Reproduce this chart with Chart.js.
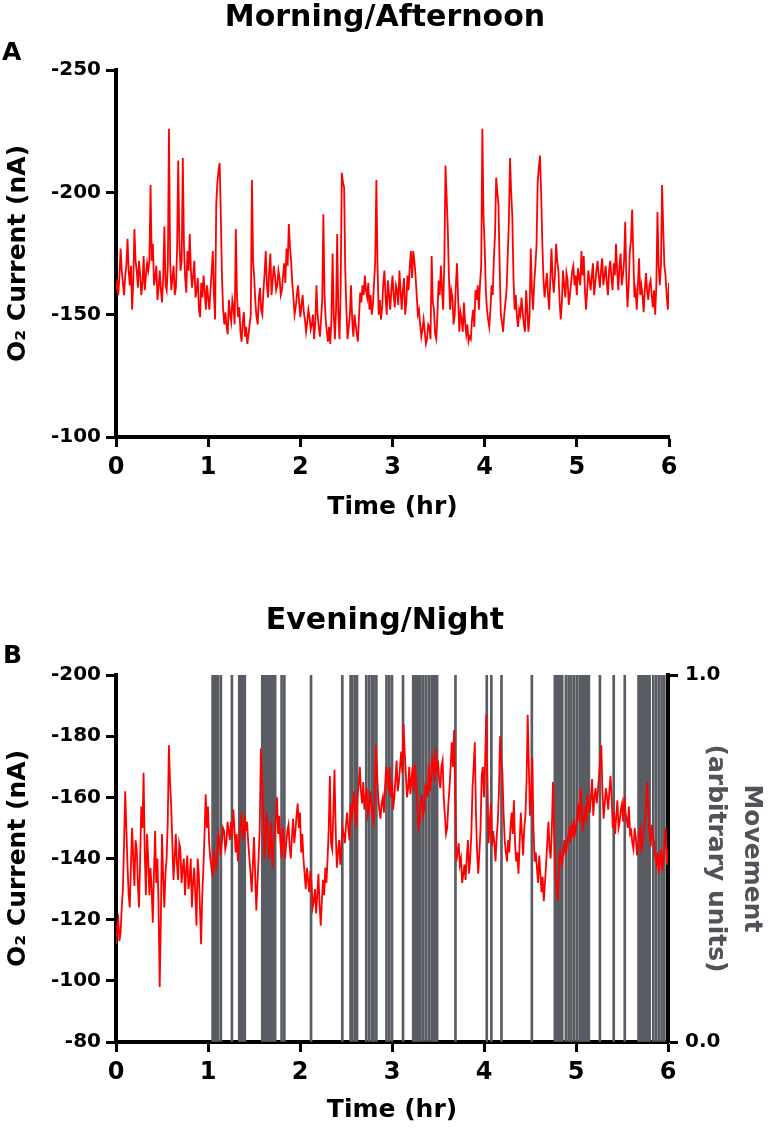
<!DOCTYPE html>
<html>
<head>
<meta charset="utf-8">
<title>O2 current and movement</title>
<script src="https://cdn.jsdelivr.net/npm/chart.js@4.4.1/dist/chart.umd.min.js"></script>
<style>
    body { margin: 0; background: #fff; width: 770px; height: 1129px; position: relative; overflow: hidden; }
    canvas { position: absolute; left: 0; }
    #chart-a { top: 0; }
    #chart-b { top: 560px; }
    .panel-letter { position: absolute; font-family: 'DejaVu Sans', sans-serif; font-weight: bold; font-size: 25px; line-height: 25px; color: #000; }
</style>
</head>
<body>
<canvas id="chart-a" width="770" height="530"></canvas>
<canvas id="chart-b" width="770" height="569"></canvas>
<div class="panel-letter" style="left:2px;top:39px">A</div>
<div class="panel-letter" style="left:3px;top:642px">B</div>
<script>
// samples every 0.0125 hr (45 s)
const sampleStep = 0.0125;
const timeTicks = [0, 1, 2, 3, 4, 5, 6];
const morningTicks = [-250, -200, -150, -100];
const eveningTicks = [-200, -180, -160, -140, -120, -100, -80];
const movementTicks = [0, 1];

const morningCurrent = [
    -160, -164, -158, -166, -177, -168, -163, -158, -166, -170, -181, -168, -162, -170, -152, -164, -185, -172, -168, -161,
    -172, -166, -158, -163, -174, -160, -166, -171, -168, -172, -203, -172, -179, -162, -165, -170, -156, -161, -168, -160,
    -155, -166, -186, -162, -160, -170, -226, -172, -160, -165, -170, -158, -161, -176, -213, -180, -168, -172, -214, -178,
    -165, -159, -176, -168, -183, -168, -161, -166, -172, -157, -160, -165, -152, -149, -163, -157, -166, -160, -152, -162,
    -157, -152, -160, -167, -176, -158, -148, -195, -204, -209, -212, -190, -165, -152, -146, -151, -145, -142, -156, -150,
    -147, -156, -153, -146, -185, -158, -149, -153, -143, -139, -147, -151, -141, -145, -138, -142, -146, -150, -205, -172,
    -165, -155, -149, -146, -157, -161, -152, -150, -160, -167, -176, -162, -157, -168, -175, -158, -164, -170, -166, -160,
    -162, -168, -165, -158, -160, -166, -171, -163, -177, -170, -187, -178, -172, -163, -157, -150, -153, -158, -162, -155,
    -149, -154, -158, -151, -148, -143, -147, -152, -149, -144, -146, -150, -140, -147, -162, -150, -145, -141, -148, -156,
    -191, -158, -148, -143, -139, -145, -138, -148, -175, -150, -140, -152, -183, -150, -140, -160, -208, -204, -202, -168,
    -152, -140, -145, -150, -162, -148, -141, -150, -146, -142, -139, -150, -159, -155, -162, -158, -166, -160, -157, -163,
    -152, -158, -150, -154, -163, -172, -205, -170, -150, -156, -148, -153, -163, -168, -157, -150, -164, -158, -152, -160,
    -166, -158, -153, -162, -160, -154, -168, -160, -152, -160, -165, -150, -155, -166, -160, -170, -176, -165, -176, -172,
    -166, -158, -150, -152, -146, -141, -144, -148, -143, -138, -140, -146, -145, -140, -174, -155, -152, -142, -140, -150,
    -164, -158, -170, -160, -152, -172, -211, -198, -185, -165, -152, -160, -157, -146, -150, -162, -171, -156, -143, -151,
    -148, -143, -155, -147, -142, -146, -139, -141, -140, -148, -152, -145, -160, -156, -162, -152, -163, -170, -226, -190,
    -178, -160, -152, -148, -145, -152, -162, -158, -173, -183, -206, -200, -195, -170, -150, -147, -143, -150, -155, -160,
    -174, -188, -214, -200, -190, -165, -152, -158, -149, -145, -152, -150, -157, -151, -146, -143, -160, -152, -143, -150,
    -177, -160, -152, -163, -170, -178, -204, -210, -215, -200, -180, -165, -157, -162, -167, -158, -152, -165, -177, -165,
    -159, -166, -179, -172, -168, -156, -148, -155, -168, -162, -157, -167, -164, -154, -158, -163, -168, -170, -162, -166,
    -158, -169, -165, -162, -176, -166, -174, -160, -152, -160, -168, -164, -160, -166, -171, -158, -163, -168, -172, -166,
    -161, -168, -173, -162, -166, -170, -163, -158, -168, -172, -165, -160, -171, -166, -179, -168, -160, -170, -175, -162,
    -166, -172, -188, -165, -153, -162, -176, -180, -193, -175, -157, -160, -152, -162, -173, -158, -162, -158, -151, -160,
    -167, -160, -156, -162, -164, -158, -153, -160, -150, -162, -192, -170, -162, -170, -203, -185, -170, -166, -158, -152,
    -163
];

const eveningCurrent = [
    -112, -118, -120, -113, -116, -124, -130, -145, -162, -150, -138, -128, -124, -138, -150, -140, -131, -146, -143, -132,
    -124, -140, -157, -150, -168, -142, -128, -148, -140, -128, -137, -130, -119, -135, -149, -132, -140, -125, -98, -120,
    -148, -134, -124, -135, -140, -152, -177, -165, -157, -145, -133, -140, -148, -138, -133, -145, -143, -132, -137, -140,
    -128, -136, -141, -130, -133, -140, -124, -132, -137, -128, -118, -140, -135, -124, -112, -128, -137, -148, -161, -150,
    -157, -145, -140, -137, -134, -143, -139, -136, -142, -148, -146, -141, -145, -150, -149, -143, -145, -152, -149, -146,
    -152, -147, -156, -150, -142, -148, -139, -145, -150, -155, -149, -146, -154, -149, -152, -145, -140, -135, -129, -138,
    -147, -135, -123, -132, -140, -150, -176, -165, -157, -140, -147, -155, -150, -140, -145, -152, -137, -145, -148, -153,
    -160, -148, -154, -145, -140, -150, -147, -140, -145, -149, -151, -144, -140, -147, -153, -145, -149, -154, -158, -150,
    -155, -142, -148, -140, -135, -130, -137, -133, -129, -136, -132, -124, -126, -130, -122, -128, -135, -125, -118, -126,
    -133, -128, -137, -132, -140, -150, -167, -145, -143, -155, -169, -150, -137, -142, -146, -138, -144, -150, -148, -145,
    -151, -155, -150, -146, -158, -153, -157, -162, -155, -150, -160, -164, -170, -162, -158, -165, -156, -160, -163, -154,
    -156, -162, -158, -154, -152, -160, -177, -168, -160, -156, -153, -158, -160, -155, -164, -170, -167, -162, -170, -160,
    -165, -156, -160, -166, -172, -162, -165, -170, -175, -168, -184, -175, -168, -160, -163, -170, -161, -166, -170, -162,
    -171, -165, -157, -150, -152, -158, -161, -154, -156, -164, -163, -160, -171, -162, -166, -174, -170, -165, -176, -168,
    -172, -166, -163, -170, -172, -160, -154, -148, -150, -158, -163, -170, -178, -170, -182, -160, -139, -142, -145, -138,
    -140, -132, -135, -138, -133, -140, -146, -135, -140, -148, -163, -170, -178, -155, -142, -135, -142, -150, -167, -170,
    -160, -172, -187, -165, -145, -152, -158, -144, -149, -145, -139, -147, -152, -162, -180, -172, -168, -155, -146, -142,
    -139, -146, -142, -150, -155, -148, -159, -145, -139, -142, -135, -145, -155, -148, -141, -150, -154, -165, -187, -170,
    -154, -160, -173, -150, -139, -142, -137, -132, -141, -135, -129, -134, -126, -132, -138, -145, -152, -143, -140, -150,
    -165, -148, -135, -130, -126, -135, -143, -140, -138, -142, -146, -141, -144, -147, -149, -145, -151, -147, -153, -148,
    -150, -154, -158, -152, -163, -156, -149, -153, -157, -152, -161, -158, -155, -160, -166, -154, -160, -163, -158, -162,
    -167, -172, -177, -162, -153, -158, -163, -160, -156, -162, -167, -160, -150, -155, -148, -154, -159, -150, -152, -156,
    -158, -152, -160, -155, -153, -150, -157, -148, -149, -145, -143, -150, -147, -141, -144, -148, -150, -142, -146, -149,
    -152, -158, -165, -155, -148, -144, -151, -147, -145, -140, -138, -142, -135, -139, -143, -136, -140, -145, -150, -138,
    -143
];

// times (hr) at which a movement event was scored
const movementTimes = [
    1.05, 1.07, 1.09, 1.11, 1.14, 1.26, 1.34, 1.36, 1.38, 1.40,
    1.59, 1.61, 1.63, 1.65, 1.67, 1.69, 1.71, 1.73, 1.80, 1.83,
    2.12, 2.46, 2.55, 2.57, 2.60, 2.62, 2.72, 2.75, 2.78, 2.80,
    2.83, 2.94, 2.97, 3.00, 3.12, 3.23, 3.25, 3.27, 3.29, 3.31,
    3.34, 3.37, 3.40, 3.43, 3.45, 3.47, 3.49, 3.69, 4.03, 4.08,
    4.19, 4.52, 4.77, 4.79, 4.81, 4.83, 4.85, 4.89, 4.92, 4.95,
    4.98, 5.01, 5.04, 5.06, 5.08, 5.10, 5.12, 5.14, 5.26, 5.41,
    5.53, 5.68, 5.70, 5.72, 5.74, 5.76, 5.78, 5.80, 5.84, 5.87,
    5.90, 5.93, 5.96
];
const movementLevel = 1.0;

const FONT = "'DejaVu Sans', sans-serif";
const INK = '#000';
const MOVE_GREY = '#595c62';

function toPoints(values) {
    return values.map((v, i) => ({ x: +(i * sampleStep).toFixed(4), y: v }));
}

function fixedTicks(list) {
    return scale => { scale.ticks = list.map(v => ({ value: v })); };
}

function axisStyle() {
    return {
        border: { display: true, color: INK, width: 4 },
        grid: { display: true, offset: false, drawOnChartArea: false, drawTicks: true, tickLength: 10, tickWidth: 3, tickColor: INK }
    };
}

function timeAxis(height, titlePad) {
    return {
        type: 'linear',
        min: 0,
        max: 6,
        offset: false,
        afterBuildTicks: fixedTicks(timeTicks),
        afterFit: s => { s.height = height; },
        ticks: { color: INK, padding: 6, font: { family: FONT, size: 24, weight: 'bold' } },
        title: { display: true, text: 'Time (hr)', color: INK, padding: { top: 0, bottom: titlePad }, font: { family: FONT, size: 25, weight: 'bold' } },
        ...axisStyle()
    };
}

function currentAxis(min, max, tickList) {
    return {
        type: 'linear',
        position: 'left',
        min,
        max,
        reverse: true,
        afterBuildTicks: fixedTicks(tickList),
        afterFit: s => { s.width = 116; },
        ticks: { color: INK, padding: 5, font: { family: FONT, size: 20, weight: 'bold' } },
        title: { display: true, text: 'O\u2082 Current (nA)', color: INK, padding: { top: 3, bottom: 0 }, font: { family: FONT, size: 25, weight: 'bold' } },
        ...axisStyle()
    };
}

function chartTitle(text, top, bottom) {
    return { display: true, text, color: INK, padding: { top, bottom }, font: { family: FONT, size: 30, weight: 'bold' } };
}

const traceStyle = { borderColor: '#ff0000', borderWidth: 1.8, pointRadius: 0, tension: 0, fill: false };

new Chart(document.getElementById('chart-a'), {
    type: 'line',
    data: {
        datasets: [{ label: 'O2 current', data: toPoints(morningCurrent), ...traceStyle }]
    },
    options: {
        responsive: false,
        animation: false,
        devicePixelRatio: 1,
        layout: { padding: 0 },
        plugins: {
            legend: { display: false },
            tooltip: { enabled: false },
            title: chartTitle('Morning/Afternoon', 0, 34)
        },
        scales: {
            x: timeAxis(93, 8),
            y: currentAxis(-250, -100, morningTicks),
            // empty right-hand strip so panel A lines up with panel B
            spare: {
                type: 'linear',
                position: 'right',
                min: 0,
                max: 1,
                afterFit: s => { s.width = 101; },
                ticks: { display: false },
                grid: { display: false, drawTicks: false },
                border: { display: false },
                title: { display: false }
            }
        }
    }
});

new Chart(document.getElementById('chart-b'), {
    type: 'line',
    data: {
        datasets: [
            { label: 'O2 current', data: toPoints(eveningCurrent), yAxisID: 'y', order: 0, ...traceStyle },
            {
                type: 'bar',
                label: 'Movement',
                data: movementTimes.map(t => ({ x: t, y: movementLevel })),
                yAxisID: 'y2',
                order: 1,
                backgroundColor: MOVE_GREY,
                borderWidth: 0,
                barThickness: 2,
                grouped: false
            }
        ]
    },
    options: {
        responsive: false,
        animation: false,
        devicePixelRatio: 1,
        layout: { padding: 0 },
        plugins: {
            legend: { display: false },
            tooltip: { enabled: false },
            title: chartTitle('Evening/Night', 43, 36)
        },
        scales: {
            x: timeAxis(87, 4),
            y: currentAxis(-200, -80, eveningTicks),
            y2: {
                type: 'linear',
                position: 'right',
                min: 0,
                max: 1,
                afterBuildTicks: fixedTicks(movementTicks),
                afterFit: s => { s.width = 102; },
                ticks: { color: INK, padding: 7, font: { family: FONT, size: 20, weight: 'bold' }, callback: v => v.toFixed(1) },
                title: {
                    display: true,
                    text: ['Movement', '(arbitrary units)'],
                    color: '#505359',
                    padding: { top: 0, bottom: 0 },
                    font: { family: FONT, size: 25, weight: 'bold', lineHeight: 1.45 }
                },
                ...axisStyle()
            }
        }
    }
});
</script>
</body>
</html>
